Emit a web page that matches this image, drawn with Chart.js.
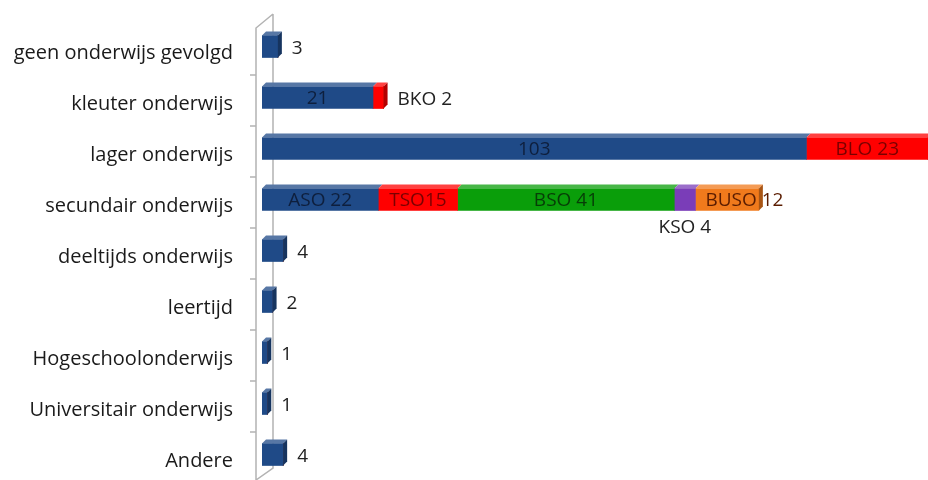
<!DOCTYPE html>
<html>
<head>
<meta charset="utf-8">
<script src="https://cdn.jsdelivr.net/npm/chart.js@4"></script>
<style>
  body { margin: 0; background: #fff; }
  #wrap { width: 928px; height: 480px; }
</style>
</head>
<body>
<div id="wrap"><canvas id="myChart" width="928" height="480"></canvas></div>
<script>
var categories = ['geen onderwijs gevolgd', 'kleuter onderwijs', 'lager onderwijs', 'secundair onderwijs',
  'deeltijds onderwijs', 'leertijd', 'Hogeschoolonderwijs', 'Universitair onderwijs', 'Andere'];

// one array per stacked segment, one value per row
var basisValues = [3, 21, 103, 22, 4, 2, 1, 1, 4];
var tweedeValues = [0, 2, 23, 15, 0, 0, 0, 0, 0];
var bsoValues = [0, 0, 0, 41, 0, 0, 0, 0, 0];
var ksoValues = [0, 0, 0, 4, 0, 0, 0, 0, 0];
var busoValues = [0, 0, 0, 12, 0, 0, 0, 0, 0];

// text shown in front of each value
var basisPrefix = ['', '', '', 'ASO ', '', '', '', '', ''];
var tweedePrefix = ['', 'BKO ', 'BLO ', 'TSO', '', '', '', '', ''];
var bsoPrefix = ['', '', '', 'BSO ', '', '', '', '', ''];
var ksoPrefix = ['', '', '', 'KSO ', '', '', '', '', ''];
var busoPrefix = ['', '', '', 'BUSO ', '', '', '', '', ''];

var axisMax = 126;
var FONT = '"Open Sans", "Noto Sans", sans-serif';

function shade(hex, f) {
  var n = parseInt(hex.slice(1), 16);
  var r = (n >> 16) & 255, g = (n >> 8) & 255, b = n & 255;
  function c(v) { return Math.max(0, Math.min(255, Math.round(f > 0 ? v + (255 - v) * f : v * (1 + f)))); }
  return 'rgb(' + c(r) + ',' + c(g) + ',' + c(b) + ')';
}

// side walls and the tick marks of the category axis
var wallPlugin = {
  id: 'walls',
  beforeDatasetsDraw: function(chart) {
    var ctx = chart.ctx, a = chart.chartArea, ys = chart.scales.y;
    var fx = a.left - 6, bx = a.left + 11;
    ctx.save();
    ctx.strokeStyle = '#b3b3b3';
    ctx.lineWidth = 1.5;
    ctx.beginPath();
    ctx.moveTo(bx, a.top - 7);
    ctx.lineTo(bx, a.bottom - 12);
    ctx.lineTo(fx, a.bottom);
    ctx.moveTo(fx, a.bottom);
    ctx.lineTo(fx, a.top + 7);
    ctx.lineTo(bx, a.top - 7);
    for (var i = 1; i < categories.length; i++) {
      var y = (ys.getPixelForValue(i - 1) + ys.getPixelForValue(i)) / 2 + 3;
      ctx.moveTo(fx - 6, y);
      ctx.lineTo(fx, y);
    }
    ctx.stroke();
    ctx.restore();
  }
};

// depth faces on top and on the right end of each row
var depthPlugin = {
  id: 'depth',
  afterDatasetsDraw: function(chart) {
    var ctx = chart.ctx, d = 4;
    ctx.save();
    categories.forEach(function(c, i) {
      var last = null, lastColor = null;
      chart.data.datasets.forEach(function(ds, di) {
        if (!ds.data[i]) return;
        var el = chart.getDatasetMeta(di).data[i];
        var p = el.getProps(['x', 'y', 'base', 'height'], true);
        var top = p.y - p.height / 2;
        var xe = Math.min(p.x, chart.chartArea.right);
        ctx.fillStyle = shade(ds.backgroundColor, 0.25);
        ctx.beginPath();
        ctx.moveTo(p.base, top);
        ctx.lineTo(p.base + d, top - d);
        ctx.lineTo(xe + d, top - d);
        ctx.lineTo(xe, top);
        ctx.closePath();
        ctx.fill();
        last = p; lastColor = ds.backgroundColor;
      });
      if (last) {
        var t = last.y - last.height / 2, b = last.y + last.height / 2;
        ctx.fillStyle = shade(lastColor, -0.3);
        ctx.beginPath();
        ctx.moveTo(last.x, t);
        ctx.lineTo(last.x + d, t - d);
        ctx.lineTo(last.x + d, b - d);
        ctx.lineTo(last.x, b);
        ctx.closePath();
        ctx.fill();
      }
    });
    ctx.restore();
  }
};

// value labels: inside when they fit, otherwise after the row or under it
var labelPlugin = {
  id: 'valueLabels',
  afterDraw: function(chart) {
    var ctx = chart.ctx;
    ctx.save();
    ctx.font = '19px ' + FONT;
    ctx.textBaseline = 'middle';
    categories.forEach(function(c, i) {
      var metas = [];
      chart.data.datasets.forEach(function(ds, di) {
        if (ds.data[i]) metas.push(di);
      });
      metas.forEach(function(di, k) {
        var ds = chart.data.datasets[di];
        var p = chart.getDatasetMeta(di).data[i].getProps(['x', 'y', 'base', 'height'], true);
        var text = ds.prefixes[i] + ds.data[i];
        var tw = ctx.measureText(text).width;
        var w = p.x - p.base;
        var isLast = k === metas.length - 1;
        if (w > Math.max(tw + 12, 30)) {
          ctx.fillStyle = ds.labelColor;
          ctx.textAlign = 'center';
          ctx.fillText(text, (p.base + p.x) / 2, p.y + 1);
        } else if (isLast && w > 40) {
          ctx.fillStyle = ds.labelColor;
          ctx.textAlign = 'left';
          ctx.fillText(text, p.base + 10, p.y + 1);
        } else if (isLast) {
          ctx.fillStyle = '#222';
          ctx.textAlign = 'left';
          ctx.fillText(text, p.x + 14, p.y + 2);
        } else {
          ctx.fillStyle = '#222';
          ctx.textAlign = 'center';
          ctx.fillText(text, (p.base + p.x) / 2, p.y + 28);
        }
      });
    });
    ctx.restore();
  }
};

function series(label, values, prefixes, color, labelColor) {
  return {
    label: label,
    data: values,
    prefixes: prefixes,
    backgroundColor: color,
    labelColor: labelColor,
    borderWidth: 0,
    barThickness: 22
  };
}

var ctx = document.getElementById('myChart');
var myChart = new Chart(ctx, {
  type: 'bar',
  data: {
    labels: categories,
    datasets: [
      series('basis', basisValues, basisPrefix, '#1f4a87', '#0e1f3d'),
      series('tweede', tweedeValues, tweedePrefix, '#ff0000', '#7a0000'),
      series('BSO', bsoValues, bsoPrefix, '#0a9e0a', '#073d07'),
      series('KSO', ksoValues, ksoPrefix, '#7a3db8', '#2a0f45'),
      series('BUSO', busoValues, busoPrefix, '#f07a1c', '#5a1c00')
    ]
  },
  options: {
    responsive: false,
    animation: false,
    indexAxis: 'y',
    layout: { padding: { top: 21, right: 0, bottom: 0, left: 0 } },
    plugins: {
      legend: { display: false },
      tooltip: { enabled: false }
    },
    scales: {
      x: {
        stacked: true,
        display: false,
        min: 0,
        max: axisMax
      },
      y: {
        stacked: true,
        grid: { display: false, drawTicks: false },
        border: { display: false },
        afterFit: function(scale) {
          scale.width = 262;
          scale.paddingTop = 0;
          scale.paddingBottom = 0;
        },
        ticks: {
          padding: 29,
          labelOffset: 7,
          color: '#1a1a1a',
          font: { family: FONT, size: 20 }
        }
      }
    }
  },
  plugins: [wallPlugin, depthPlugin, labelPlugin]
});
</script>
</body>
</html>
